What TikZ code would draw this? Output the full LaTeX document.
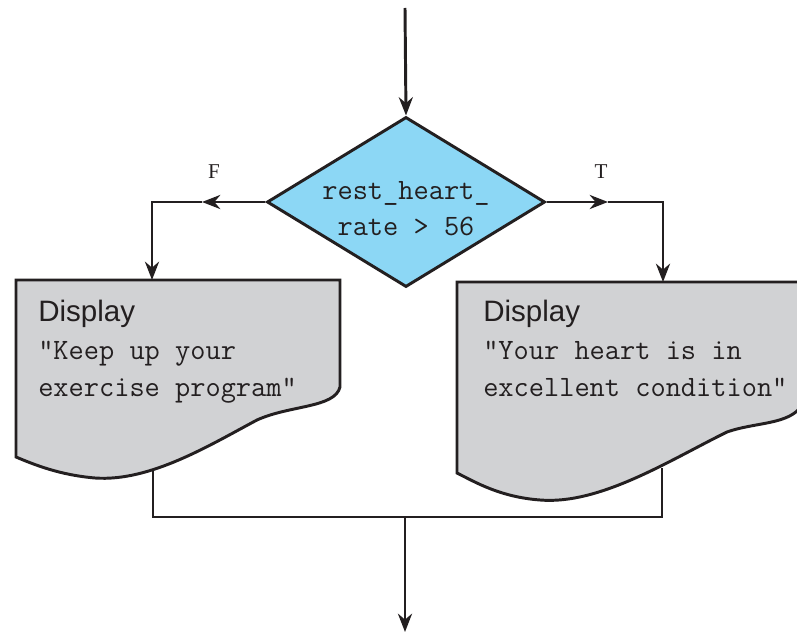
\documentclass[tikz,border=0pt]{standalone}
\usepackage{fontspec}
\newfontfamily\dispfont{Liberation Sans}
\newfontfamily\labelfont{Liberation Serif}
\usetikzlibrary{arrows.meta,positioning,shapes.geometric}
\definecolor{decblue}{RGB}{140,215,245}
\definecolor{docgray}{RGB}{209,210,212}
\definecolor{ink}{RGB}{35,31,32}

\begin{document}
\begin{tikzpicture}[x=0.025cm,y=-0.025cm,
    flow/.style={draw=ink, line width=2.1pt},
    arr/.style={-{Stealth[length=13pt,width=10pt]}},
    decision/.style={diamond, draw=ink, fill=decblue, line width=2.1pt,
        minimum width=6.95cm, minimum height=4.25cm, inner sep=0pt, aspect=1.63},
    dectext/.style={align=center, text=ink, inner sep=0pt,
        font=\fontsize{21}{25.6}\selectfont\ttfamily},
    title/.style={anchor=base west, inner sep=0pt, text=ink,
        font=\fontsize{21}{25}\selectfont\dispfont},
    msg/.style={anchor=base west, inner sep=0pt, align=left, text=ink,
        font=\fontsize{21}{26.5}\selectfont\ttfamily},
    branch/.style={text=ink, font=\fontsize{15}{18}\selectfont\labelfont}]
  \useasboundingbox (0,0) rectangle (797,636);

  % Decision
  \node[decision] (dec) at (406,202) {};
  \node[dectext] (dectxt) at ([yshift=-5pt]dec.center) {rest\_heart\_\\rate > 56};
  \coordinate (entry) at (405,8);
  \draw[flow,arr] (entry) -- (dec.north);

  % False branch
  \coordinate (fmid) at (202,202);
  \coordinate (fdoc) at (152,280);
  \draw[flow,arr] (dec.west) -- (fmid);
  \draw[flow,arr] (fmid) -| (fdoc);
  \node[branch] (flab) at (214,172) {F};

  % True branch
  \coordinate (tmid) at (608,202);
  \coordinate (tdoc) at (663,282);
  \draw[flow,arr] (dec.east) -- (tmid);
  \draw[flow,arr] (tmid) -| (tdoc);
  \node[branch] (tlab) at (601,172) {T};

  % Join below the two outputs
  \coordinate (fout) at (153,468);
  \coordinate (tout) at (662,468);
  \coordinate (join) at (405,517);
  \coordinate (exit) at (405,632);
  \draw[flow] (fout) |- (join) -| (tout);
  \draw[flow,arr] (join) -- (exit);

  % Output documents
  \filldraw[flow, fill=docgray] (16,280) -- (340,280) -- (340,387)
    .. controls (335,408) and (290,405) .. (257,420)
    .. controls (210,445) and (150,482) .. (95,478)
    .. controls (60,475) and (35,465) .. (16,457) -- cycle;
  \filldraw[flow, fill=docgray] (457,282) -- (802,282) -- (802,405)
    .. controls (790,425) and (755,422) .. (727,432)
    .. controls (670,460) and (600,505) .. (540,500)
    .. controls (500,497) and (475,482) .. (457,473) -- cycle;

  \node[title] (fdisp) at (38,322) {Display};
  \node[msg] (fmsg) at (38,397) {"Keep up your\\exercise program"};
  \node[title] (tdisp) at (483,322) {Display};
  \node[msg] (tmsg) at (483,397) {"Your heart is in\\excellent condition"};
\end{tikzpicture}
\end{document}
